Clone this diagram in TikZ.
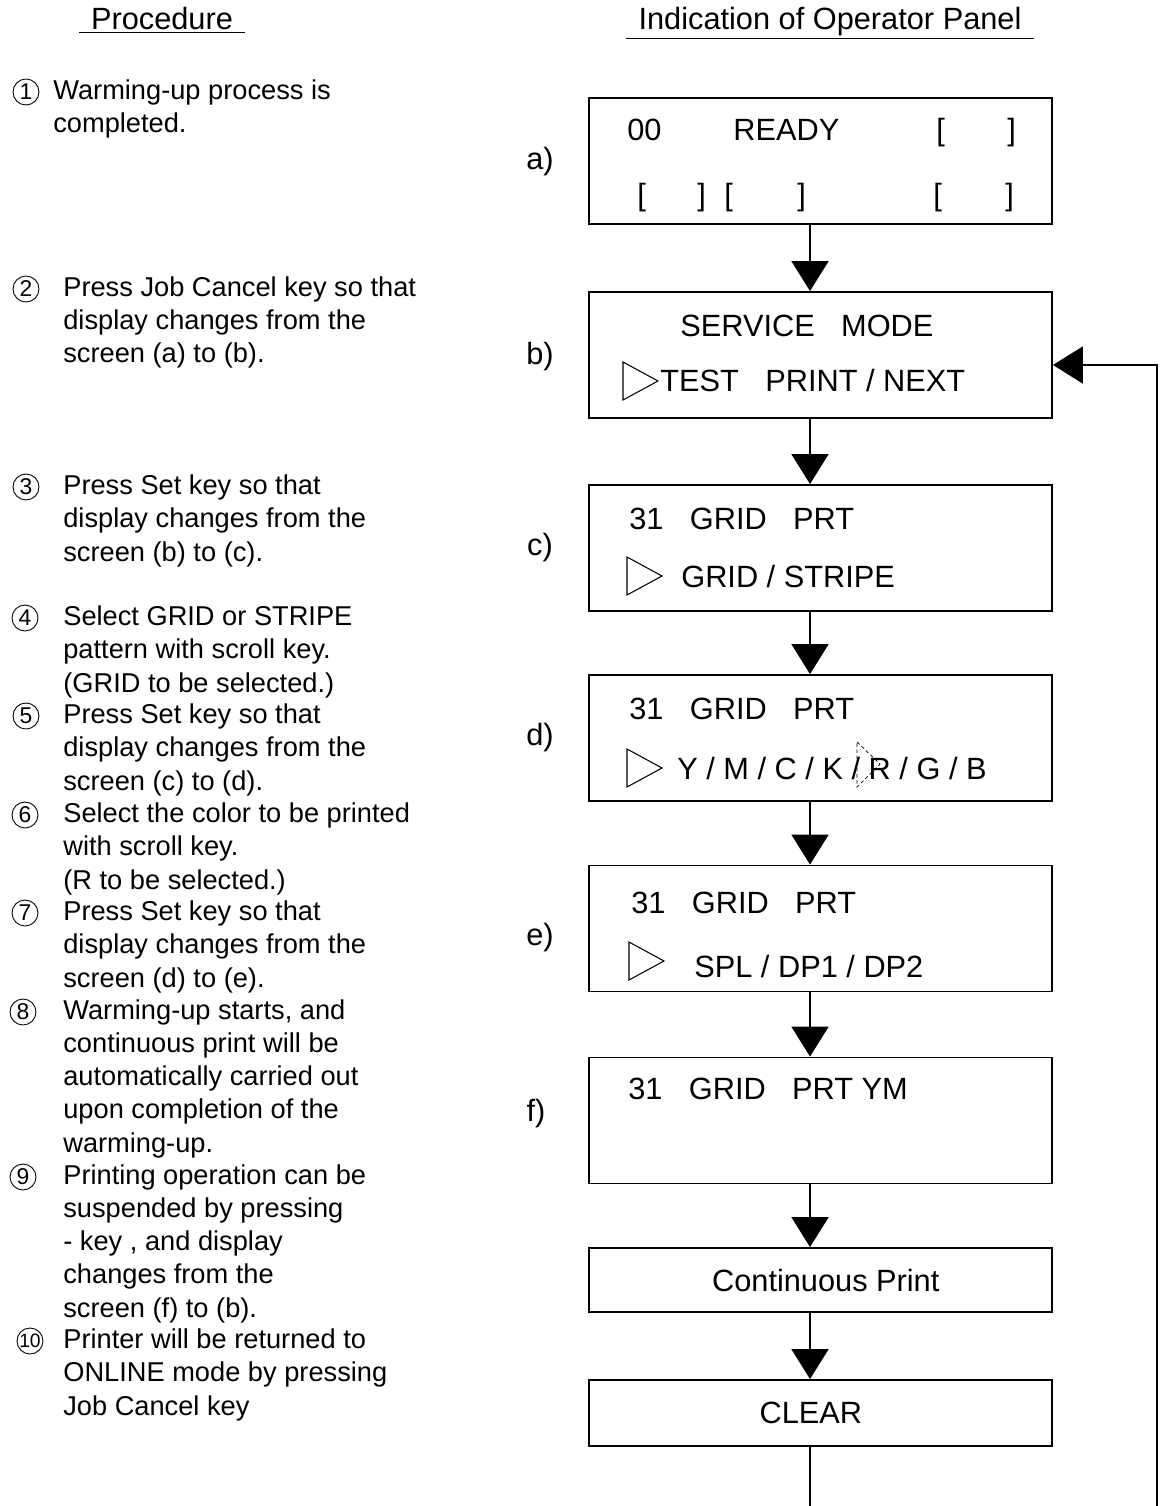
\documentclass[tikz,border=0pt]{standalone}
\usepackage{fontspec}
\setmainfont{Liberation Sans}
\usetikzlibrary{arrows.meta,positioning}
\newcommand{\boxfont}{\fontsize{17.5pt}{21pt}\selectfont}
\newcommand{\stepfont}{\fontsize{15.5pt}{18.8pt}\selectfont}
\newcommand{\gapw}{\hspace{15pt}}
\newcommand{\brk}[1]{[\hspace{#1}]}
\newcommand{\cursor}[2]{\draw[line width=0.6pt] (#1,#2-19) -- ++(35,19) -- ++(-35,19) -- cycle;}
\tikzset{
  panel/.style={draw,line width=1.1pt,minimum width=9.26cm,minimum height=2.52cm,inner sep=0pt,font=\boxfont},
  ptxt/.style={anchor=base west,inner sep=0pt,font=\boxfont},
  plabel/.style={font=\boxfont},
  head/.style={anchor=base,font=\boxfont,inner xsep=0.24cm,inner ysep=1pt},
  % multi-line nodes: base = last line
  proc/.style={anchor=base west,align=left,inner sep=0pt,font=\stepfont},
  numc/.style={circle,draw,line width=0.5pt,inner sep=0pt,minimum size=0.52cm,font=\fontsize{13pt}{13pt}\selectfont},
  flow/.style={line width=1.1pt,-{Triangle[length=0.6cm,width=0.74cm]}}
}
\begin{document}
\begin{tikzpicture}[x=0.02cm,y=-0.02cm]
  \useasboundingbox (0,0) rectangle (1162,1506);
  % headers
  \node[head] (hproc) at (162,30) {Procedure};
  \node[head] (hpanel) at (830,30) {Indication of Operator Panel};
  \draw[line width=0.5pt] (hproc.south west) -- (hproc.south east);
  \draw[line width=0.5pt] (hpanel.south west) -- (hpanel.south east);

  % procedure steps
  \node[numc] (n1) at (26,92) {1};
  \node[proc] (s1) at (53,133) {Warming-up process is\\completed.};
  \node[numc] (n2) at (26,289) {2};
  \node[proc] (s2) at (63,363) {Press Job Cancel key so that\\display changes from the\\screen (a) to (b).};
  \node[numc] (n3) at (26,487) {3};
  \node[proc] (s3) at (63,561) {Press Set key so that\\display changes from the\\screen (b) to (c).};
  \node[numc] (n4) at (25,618) {4};
  \node[proc] (s4) at (63,692) {Select GRID or STRIPE\\pattern with scroll key.\\(GRID to be selected.)};
  \node[numc] (n5) at (26,716) {5};
  \node[proc] (s5) at (63,790) {Press Set key so that\\display changes from the\\screen (c) to (d).};
  \node[numc] (n6) at (25,815) {6};
  \node[proc] (s6) at (63,889) {Select the color to be printed\\with scroll key.\\(R to be selected.)};
  \node[numc] (n7) at (25,913) {7};
  \node[proc] (s7) at (63,987) {Press Set key so that\\display changes from the\\screen (d) to (e).};
  \node[numc] (n8) at (23,1012) {8};
  \node[proc] (s8) at (63,1152) {Warming-up starts, and\\continuous print will be\\automatically carried out\\upon completion of the\\warming-up.};
  \node[numc] (n9) at (23,1177) {9};
  \node[proc] (s9) at (63,1317) {Printing operation can be\\suspended by pressing\\- key , and display\\changes from the\\screen (f) to (b).};
  \node[numc,font=\fontsize{11pt}{11pt}\selectfont] (n10) at (30,1341) {10};
  \node[proc] (s10) at (63,1415) {Printer will be returned to\\ONLINE mode by pressing\\Job Cancel key};

  % panel screens
  \node[panel] (pa) at (820.5,161) {};
  \node[panel] (pb) at (820.5,355) {};
  \node[panel] (pc) at (820.5,548) {};
  \node[panel] (pd) at (820.5,738) {};
  \node[panel] (pe) at (820.5,928.5) {};
  \node[panel] (pf) at (820.5,1120.5) {};
  \node[panel,minimum height=1.28cm] (cont) at (820.5,1280) {\kern6pt Continuous Print};
  \node[panel,minimum height=1.32cm] (clear) at (820.5,1413) {CLEAR\kern11pt};

  \node[plabel] (la) at (540,162) {a)};
  \node[plabel] (lb) at (540,357) {b)};
  \node[plabel] (lc) at (540,548) {c)};
  \node[plabel] (ld) at (540,738) {d)};
  \node[plabel] (le) at (540,938) {e)};
  \node[plabel] (lf) at (536,1114) {f)};

  % screen texts
  \node[ptxt] (a1) at (627,141) {00};
  \node[ptxt] (a2) at (733,141) {READY};
  \node[ptxt] (a3) at (936,141) {\brk{35.6pt}};
  \node[ptxt] (a4) at (637,206) {\brk{29.3pt}};
  \node[ptxt] (a5) at (724,206) {\brk{36.7pt}};
  \node[ptxt] (a6) at (933,206) {\brk{36.1pt}};

  \node[ptxt] (b1) at (680,337) {SERVICE\gapw MODE};
  \node[ptxt] (b2) at (660,392) {TEST\gapw PRINT / NEXT};
  \cursor{623}{381}

  \node[ptxt] (c1) at (629,529) {31\gapw GRID\gapw PRT};
  \node[ptxt] (c2) at (681,587) {GRID / STRIPE};
  \cursor{627}{576}

  \node[ptxt] (d1) at (629,719) {31\gapw GRID\gapw PRT};
  \node[ptxt] (d2) at (677,779) {Y / M / C / K / R / G / B};
  \cursor{627}{768}
  \draw[line width=0.4pt,dash pattern=on 2pt off 1.5pt] (857,742) -- (880,764) -- (857,787) -- cycle;

  \node[ptxt] (e1) at (631,913) {31\gapw GRID\gapw PRT};
  \node[ptxt] (e2) at (694,977) {SPL / DP1 / DP2};
  \cursor{629}{961}

  \node[ptxt] (f1) at (628,1099) {31\gapw GRID\gapw PRT YM};

  % flow
  \draw[flow] ([xshift=-0.21cm]pa.south) -- ([xshift=-0.21cm]pb.north);
  \draw[flow] ([xshift=-0.21cm]pb.south) -- ([xshift=-0.21cm]pc.north);
  \draw[flow] ([xshift=-0.21cm]pc.south) -- ([xshift=-0.21cm]pd.north);
  \draw[flow] ([xshift=-0.21cm]pd.south) -- ([xshift=-0.21cm]pe.north);
  \draw[flow] ([xshift=-0.21cm]pe.south) -- ([xshift=-0.21cm]pf.north);
  \draw[flow] ([xshift=-0.21cm]pf.south) -- ([xshift=-0.21cm]cont.north);
  \draw[flow] ([xshift=-0.21cm]cont.south) -- ([xshift=-0.21cm]clear.north);
  \coordinate (back) at (1157,1514);
  \draw[flow] ([xshift=-0.21cm]clear.south) |- (back) |- ([yshift=-0.2cm]pb.east);
\end{tikzpicture}
\end{document}
